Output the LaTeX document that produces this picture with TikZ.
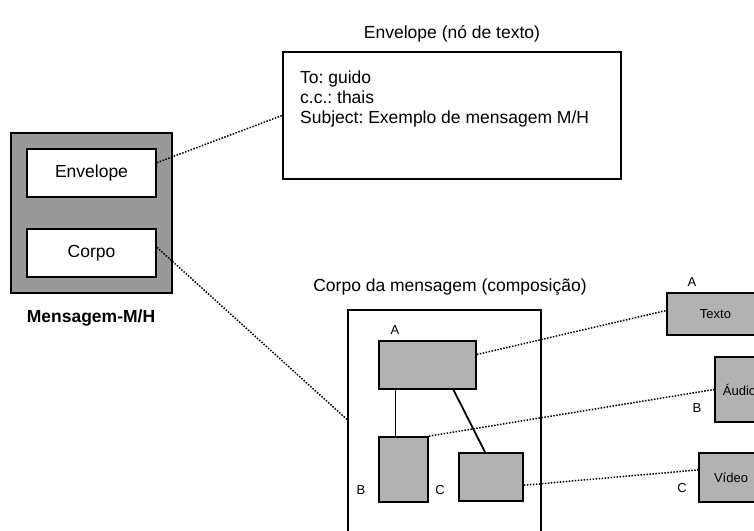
\documentclass[tikz,border=0pt]{standalone}
\usepackage{fontspec}
\setmainfont{Liberation Sans}
\frenchspacing

\definecolor{msgfill}{gray}{0.6}
\definecolor{partfill}{gray}{0.7}

\tikzset{
  box/.style={draw, line width=1.8pt, inner sep=0pt},
  link/.style={line width=1.5pt, dash pattern=on 1.5pt off 1.5pt},
  tree/.style={line width=1.8pt},
  big/.style={font=\fontsize{17.5}{20}\selectfont},
  small/.style={font=\fontsize{13}{15}\selectfont},
}

\begin{document}
\begin{tikzpicture}[x=1pt, y=-1pt]
            \clip (0,0) rectangle (754,530);

            % Message M/H
            \node[box, fill=msgfill, minimum width=161pt, minimum height=160pt] (msg) at (91.5,213) {};
            \node[box, fill=white, minimum width=129pt, minimum height=48pt, big] (env) at (91.5,173) {Envelope};
            \node[box, fill=white, minimum width=129pt, minimum height=48pt, big] (corpo) at (91.5,253) {Corpo};
            \node[anchor=base, font=\fontsize{17.5}{20}\selectfont\bfseries] (msglabel) at (91,322) {Mensagem-M/H};

            % Envelope (text node)
            \node[big, anchor=base] (envtitle) at (452,38) {Envelope (nó de texto)};
            \node[box, minimum width=338pt, minimum height=127pt] (envtxt) at (452,115.5) {};
            \node[big, align=left, anchor=north west, inner sep=0pt] (envlines) at (300,71) {To: guido\\c.c.: thais\\Subject: Exemplo de mensagem M/H};

            % Body (composition)
            \node[big, anchor=base] (comptitle) at (450,291) {Corpo da mensagem (composição)};
            \node[box, minimum width=193pt, minimum height=250pt, anchor=north west] (comp) at (347,309) {};
            \node[box, fill=partfill, minimum width=97pt, minimum height=48pt] (a) at (427.5,365) {};
            \node[box, fill=partfill, minimum width=49pt, minimum height=65pt] (b) at (403.5,469.5) {};
            \node[box, fill=partfill, minimum width=64pt, minimum height=48pt] (c) at (491,477) {};
            \node[small] (alabel) at (395,330) {A};
            \node[small] (blabel) at (361,490) {B};
            \node[small] (clabel) at (440,490) {C};
            \draw[tree] ([xshift=-8pt]b.north) -- ([xshift=-8pt]b.north |- a.south);
            \draw[tree] ([xshift=26pt]a.south) -- ([xshift=-6pt]c.north);

            % Media parts
            \node[box, fill=partfill, minimum width=97pt, minimum height=42pt, small] (texto) at (715.5,314) {Texto};
            \node[box, fill=partfill, minimum width=49pt, minimum height=65pt, small] (audio) at (739.5,389.5) {Áudio};
            \node[box, fill=partfill, minimum width=64pt, minimum height=49pt, small] (video) at (731,477.5) {Vídeo};
            \node[small] (textolabel) at (692,282) {A};
            \node[small] (audiolabel) at (697,408) {B};
            \node[small] (videolabel) at (682,488) {C};

            % Dotted links
            \draw[link] (env.9) -- (envtxt.west);
            \draw[link] (corpo.5) -- (comp.171);
            \draw[link] (a.12) -- (texto.176);
            \draw[link] (b.north east) -- (audio.west);
            \draw[link] (c.-14) -- (video.167);
\end{tikzpicture}
\end{document}
